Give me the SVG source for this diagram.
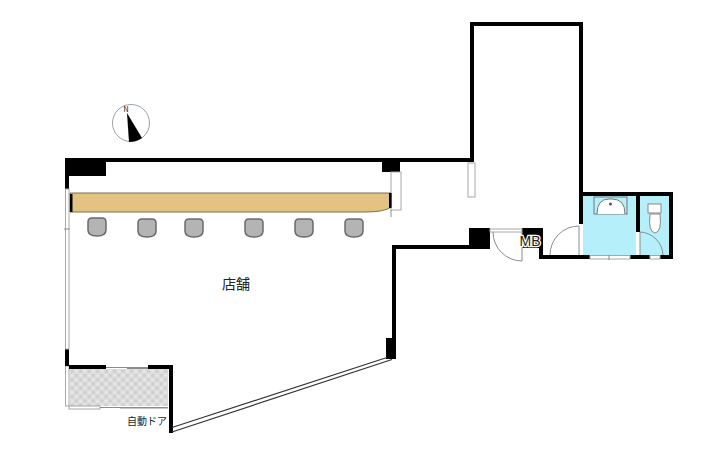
<svg xmlns="http://www.w3.org/2000/svg" width="725" height="457" viewBox="0 0 725 457">
<style>
.wall{fill:#000}
.win{fill:#fff;stroke:#a8a8a8;stroke-width:1}
.thin{fill:none;stroke:#8c8c8c;stroke-width:1}
.chair{fill:#b4b4b4;stroke:#6a6a6a;stroke-width:1.5}
.blue{fill:#b4effa}
text{font-family:"Noto Sans CJK JP","Liberation Sans",sans-serif;fill:#222}
</style>
<defs>
<pattern id="hatch" width="6" height="6" patternUnits="userSpaceOnUse" patternTransform="rotate(45)">
<rect width="6" height="6" fill="#dcdcdc"/><rect width="3" height="3" fill="#cfcfcf"/><rect x="3" y="3" width="3" height="3" fill="#e6e6e6"/>
</pattern>
<g id="chairShape"><path class="chair" d="M-9-5Q-9-9-5-9H5Q9-9 9-5V3Q9 9 0 9Q-9 9-9 3Z"/></g>
</defs>
<rect width="725" height="457" fill="#fff"/>
<g id="rooms">
<rect class="blue" x="583" y="196" width="53" height="59"/>
<rect class="blue" x="640" y="196" width="29" height="59"/>
</g>
<g id="entrance">
<rect x="70" y="369" width="98" height="37" fill="url(#hatch)"/>
<rect class="win" x="65.500" y="366" width="3.500" height="40"/>
<rect class="win" x="69" y="406" width="31" height="3"/>
<path class="thin" d="M100 407.500H168M120 408H168"/>
<path class="thin" d="M106 367.500H148M127 368.500H148" />
</g>
<g id="walls">
<path class="wall" d="M65 158H470V22H583V192H673V259H660V255H669V196H640V232H636V196H583V224H579V26H474V162H106V176H69V189H65Z"/>
<path class="wall" d="M65 349H69V365H106V369H69V366H65Z"/>
<path class="wall" d="M148 365H173V433H169V369H148Z"/>
<path class="wall" d="M392 245H469V228H490V249H396V359H386V338H392Z"/>
<path class="wall" d="M522 228H543V255H590V259H539V248H522Z"/>
<path class="wall" d="M630 255H650V259H630Z"/>
<rect class="wall" x="382" y="162" width="18" height="10"/>
</g>
<g id="windows">
<rect class="win" x="65.500" y="189" width="3.500" height="160"/>
<path class="thin" d="M64 229H70"/>
<rect class="win" x="391" y="172" width="10" height="38"/>
<path class="thin" d="M391 210V217"/>
<rect class="win" x="468" y="163" width="7" height="34"/>
<rect class="win" x="490" y="229" width="32" height="3"/>
<rect class="win" x="590" y="255.500" width="40" height="3.500"/>
<path class="thin" d="M609 255V260"/>
<rect class="win" x="650" y="255.500" width="10" height="3.500"/>
<path d="M172 427.500L387 357.500M172 432L392 359.500" fill="none" stroke="#333" stroke-width="1.200"/>
</g>
<g id="doors">
<path class="thin" d="M493 232A29 29 0 0 0 522 261V232"/>
<path class="thin" d="M550 255A29 29 0 0 1 579 226V255"/>
<path class="thin" d="M640 232A24 24 0 0 1 663 255M640 232V255"/>
</g>
<g id="counter">
<path d="M70 193H391V207Q385 212 365 212H70Z" fill="#e3c381" stroke="#80704c" stroke-width="1"/>
<rect class="wall" x="70" y="194" width="2.500" height="18"/>
<rect class="wall" x="389" y="193" width="2.500" height="15"/>
</g>
<g id="chairs">
<use href="#chairShape" x="97" y="227"/>
<use href="#chairShape" x="147" y="228"/>
<use href="#chairShape" x="194" y="228"/>
<use href="#chairShape" x="254" y="228"/>
<use href="#chairShape" x="304" y="228"/>
<use href="#chairShape" x="354" y="228"/>
</g>
<g id="sink">
<rect x="594" y="197" width="33" height="17" fill="none" stroke="#777" stroke-width="1"/>
<path d="M597 214Q597 199 609 199H612Q625 199 625 214" fill="#fff" stroke="#777" stroke-width="1"/>
<circle cx="610.500" cy="204" r="1.500" fill="#555"/>
</g>
<g id="toilet">
<rect x="648" y="204" width="13" height="9" fill="#fff" stroke="#888" stroke-width="1"/>
<path d="M650 214Q648 232 655 233Q662 232 660 214Z" fill="#fff" stroke="#888" stroke-width="1"/>
</g>
<g id="compass">
<circle cx="131" cy="123" r="18.500" fill="#fff" stroke="#a0a0a0" stroke-width="1"/>
<path d="M127 113L142 138Q136 142 129 142Z" fill="#000"/>
<text x="126" y="112" font-size="7" text-anchor="middle" style="fill:#000">N</text>
</g>
<g id="labels">
<text x="236" y="289" font-size="14" text-anchor="middle">店舗</text>
<text x="147" y="425" font-size="10" text-anchor="middle">自動ドア</text>
</g>
<g id="mb"><text x="530" y="245.500" font-size="14" text-anchor="middle" stroke="#fff" stroke-width="2.500" paint-order="stroke" style="fill:#222;font-family:'Liberation Sans',sans-serif">MB</text></g>
</svg>
